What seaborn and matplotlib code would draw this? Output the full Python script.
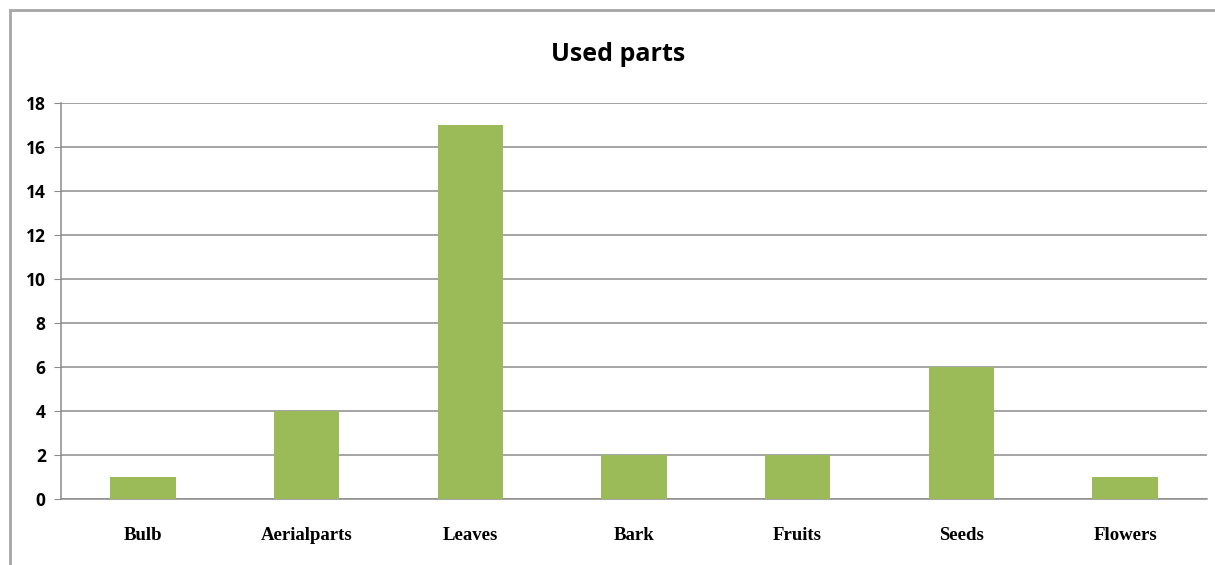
import matplotlib
matplotlib.use("Agg")
import matplotlib.pyplot as plt
import seaborn as sns
import pandas as pd

# data
parts = ["Bulb", "Aerial parts", "Leaves", "Bark", "Fruits", "Seeds", "Flowers"]
counts = [1, 4, 17, 2, 2, 6, 1]
tick_labels = ["Bulb", "Aerialparts", "Leaves", "Bark", "Fruits", "Seeds", "Flowers"]
y_ticks = [0, 2, 4, 6, 8, 10, 12, 14, 16, 18]

df = pd.DataFrame({"part": parts, "count": counts})

sns.set_style("white")
plt.rcParams["font.family"] = ["Open Sans", "DejaVu Sans"]
plt.rcParams["text.color"] = "black"
plt.rcParams["xtick.color"] = "black"
plt.rcParams["ytick.color"] = "black"

fig = plt.figure(figsize=(12.15, 5.65), dpi=100)
ax = fig.add_axes([0.0502, 0.1168, 0.9432, 0.7009])

sns.barplot(data=df, x="part", y="count", color="#9BBB59", width=0.4,
            saturation=1, linewidth=0, ax=ax, zorder=3)

ax.set_ylim(0, 18)
ax.set_xlim(-0.5, len(parts) - 0.5)
ax.set_yticks(y_ticks)
ax.set_yticklabels([str(t) for t in y_ticks], fontsize=12.5, fontweight="bold")
ax.yaxis.grid(True, color="#8c8c8c", linewidth=1.1, zorder=0)
ax.set_axisbelow(True)

# category labels centred, tick marks on the boundaries
ax.set_xticks(range(len(parts)))
ax.set_xticklabels(tick_labels, family="Liberation Serif", fontsize=13.5,
                   fontweight="bold")
ax.tick_params(axis="x", length=0, pad=20)
ax.set_xticks([i - 0.5 for i in range(len(parts) + 1)], minor=True)
ax.tick_params(axis="x", which="minor", length=7, color="#8c8c8c", direction="out")
ax.tick_params(axis="y", length=5, color="#8c8c8c", direction="out", pad=6, left=True)

ax.set_xlabel("")
ax.set_ylabel("")
for side in ["top", "right"]:
    ax.spines[side].set_visible(False)
ax.spines["left"].set_color("#8c8c8c")
ax.spines["bottom"].set_color("#8c8c8c")
ax.spines["left"].set_linewidth(1.1)
ax.spines["bottom"].set_linewidth(1.1)

fig.text(0.509, 0.903, "Used parts", ha="center", va="center",
         fontsize=18, fontweight="bold")

# outer chart frame
frame = plt.Rectangle((10 / 1215, -0.05), 1.1, 1 - 10 / 565 + 0.05,
                      transform=fig.transFigure, fill=False,
                      edgecolor="#a6a6a6", linewidth=2)
fig.patches.append(frame)

fig.savefig("out.png", dpi=100)
plt.close()
